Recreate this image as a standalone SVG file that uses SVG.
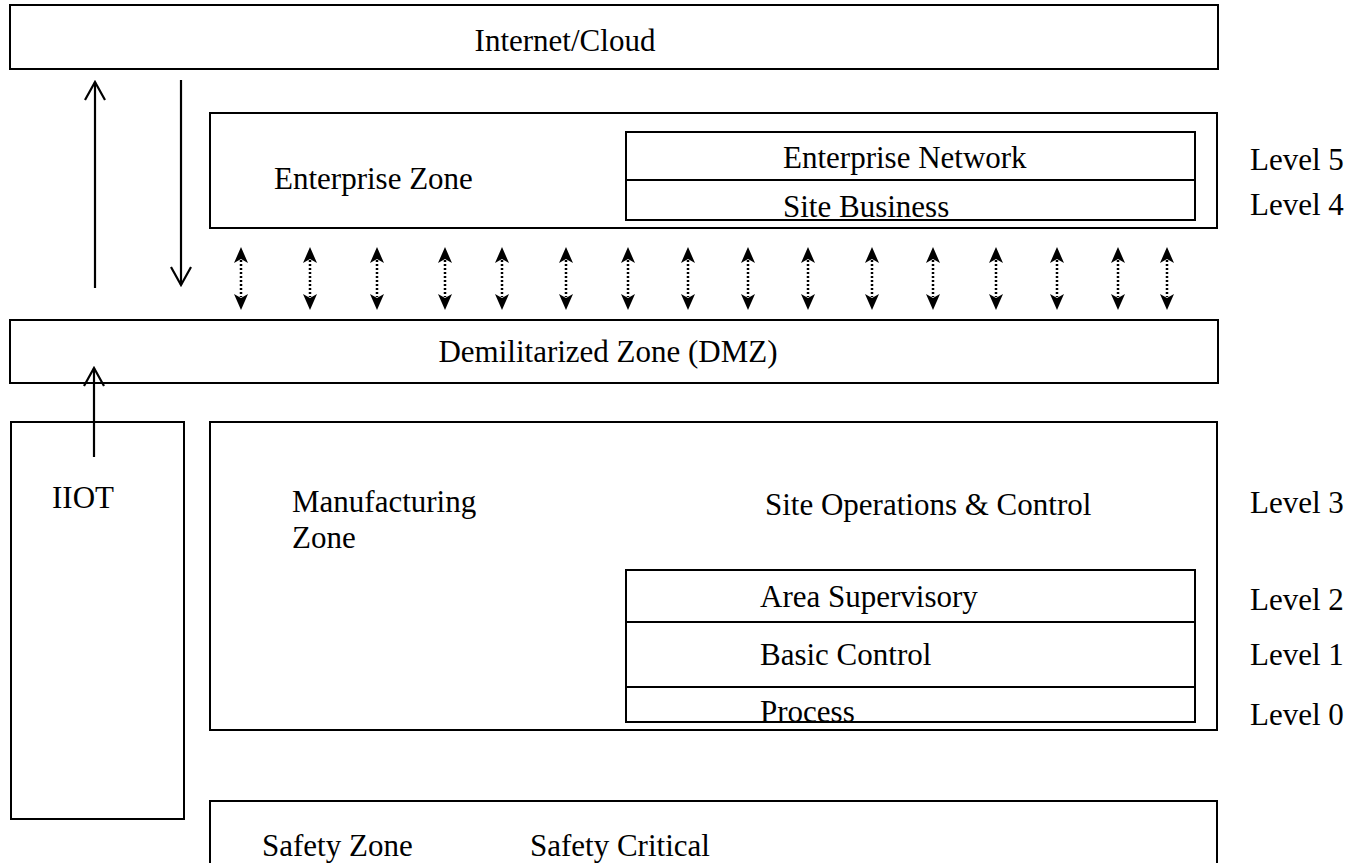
<svg xmlns="http://www.w3.org/2000/svg" width="1359" height="863" viewBox="0 0 1359 863">
<style>
.box{fill:none;stroke:#000;stroke-width:2}
.t{font-family:"Liberation Serif","Times New Roman",serif;font-size:31px;fill:#000}
.solid{stroke:#000;stroke-width:2.2;fill:none}
.dot{stroke:#000;stroke-width:2.5;stroke-dasharray:2 2;fill:none}
</style>
<defs>
<marker id="open" markerUnits="userSpaceOnUse" viewBox="-2 -12 22 24" refX="18" refY="0" markerWidth="22" markerHeight="24" orient="auto">
<path d="M0,-10 L18,0 L0,10" fill="none" stroke="#000" stroke-width="2.2"/>
</marker>
<marker id="fill" markerUnits="userSpaceOnUse" viewBox="0 -8 16 16" refX="3" refY="0" markerWidth="16" markerHeight="16" orient="auto-start-reverse">
<path d="M16,0 L0,-7 L4,0 L0,7 Z" fill="#000"/>
</marker>
</defs>
<rect width="1359" height="863" fill="#fff"/>

<g id="internet-cloud">
<rect class="box" x="10" y="5" width="1208" height="64"/>
<text class="t" x="565" y="51" text-anchor="middle">Internet/Cloud</text>
</g>

<g id="enterprise-zone">
<rect class="box" x="210" y="113" width="1007" height="115"/>
<text class="t" x="274" y="189">Enterprise Zone</text>
</g>

<g id="enterprise-network">
<rect class="box" x="626" y="132" width="569" height="48"/>
<text class="t" x="783" y="168">Enterprise Network</text>
</g>

<g id="site-business">
<rect class="box" x="626" y="180" width="569" height="40"/>
<text class="t" x="783" y="217">Site Business</text>
</g>

<g id="dmz">
<rect class="box" x="10" y="320" width="1208" height="63"/>
<text class="t" x="608" y="362" text-anchor="middle">Demilitarized Zone (DMZ)</text>
</g>

<g id="iiot">
<rect class="box" x="11" y="422" width="173" height="397"/>
<text class="t" x="52" y="508">IIOT</text>
</g>

<g id="manufacturing-zone">
<rect class="box" x="210" y="422" width="1007" height="308"/>
<text class="t" x="292" y="512">Manufacturing</text>
<text class="t" x="292" y="548">Zone</text>
<text class="t" x="765" y="515">Site Operations &amp; Control</text>
</g>

<g id="area-supervisory">
<rect class="box" x="626" y="570" width="569" height="52"/>
<text class="t" x="760" y="607">Area Supervisory</text>
</g>

<g id="basic-control">
<rect class="box" x="626" y="622" width="569" height="65"/>
<text class="t" x="760" y="665">Basic Control</text>
</g>

<g id="process">
<rect class="box" x="626" y="687" width="569" height="35"/>
<text class="t" x="760" y="722">Process</text>
</g>

<g id="safety-zone">
<rect class="box" x="210" y="801" width="1007" height="80"/>
<text class="t" x="262" y="856">Safety Zone</text>
<text class="t" x="530" y="856">Safety Critical</text>
</g>

<g id="levels">
<text class="t" x="1250" y="170">Level 5</text>
<text class="t" x="1250" y="215">Level 4</text>
<text class="t" x="1250" y="513">Level 3</text>
<text class="t" x="1250" y="610">Level 2</text>
<text class="t" x="1250" y="665">Level 1</text>
<text class="t" x="1250" y="725">Level 0</text>
</g>

<g id="connectors">
<line class="solid" x1="95" y1="288" x2="95" y2="82" marker-end="url(#open)"/>
<line class="solid" x1="181" y1="80" x2="181" y2="285" marker-end="url(#open)"/>
<line class="solid" x1="94" y1="457" x2="94" y2="368" marker-end="url(#open)"/>
<g class="dot">
<line x1="241" y1="260" x2="241" y2="297" marker-start="url(#fill)" marker-end="url(#fill)"/>
<line x1="310" y1="260" x2="310" y2="297" marker-start="url(#fill)" marker-end="url(#fill)"/>
<line x1="377" y1="260" x2="377" y2="297" marker-start="url(#fill)" marker-end="url(#fill)"/>
<line x1="445" y1="260" x2="445" y2="297" marker-start="url(#fill)" marker-end="url(#fill)"/>
<line x1="502" y1="260" x2="502" y2="297" marker-start="url(#fill)" marker-end="url(#fill)"/>
<line x1="566" y1="260" x2="566" y2="297" marker-start="url(#fill)" marker-end="url(#fill)"/>
<line x1="628" y1="260" x2="628" y2="297" marker-start="url(#fill)" marker-end="url(#fill)"/>
<line x1="688" y1="260" x2="688" y2="297" marker-start="url(#fill)" marker-end="url(#fill)"/>
<line x1="748" y1="260" x2="748" y2="297" marker-start="url(#fill)" marker-end="url(#fill)"/>
<line x1="808" y1="260" x2="808" y2="297" marker-start="url(#fill)" marker-end="url(#fill)"/>
<line x1="872" y1="260" x2="872" y2="297" marker-start="url(#fill)" marker-end="url(#fill)"/>
<line x1="933" y1="260" x2="933" y2="297" marker-start="url(#fill)" marker-end="url(#fill)"/>
<line x1="996" y1="260" x2="996" y2="297" marker-start="url(#fill)" marker-end="url(#fill)"/>
<line x1="1057" y1="260" x2="1057" y2="297" marker-start="url(#fill)" marker-end="url(#fill)"/>
<line x1="1118" y1="260" x2="1118" y2="297" marker-start="url(#fill)" marker-end="url(#fill)"/>
<line x1="1167" y1="260" x2="1167" y2="297" marker-start="url(#fill)" marker-end="url(#fill)"/>
</g>
</g>
</svg>
